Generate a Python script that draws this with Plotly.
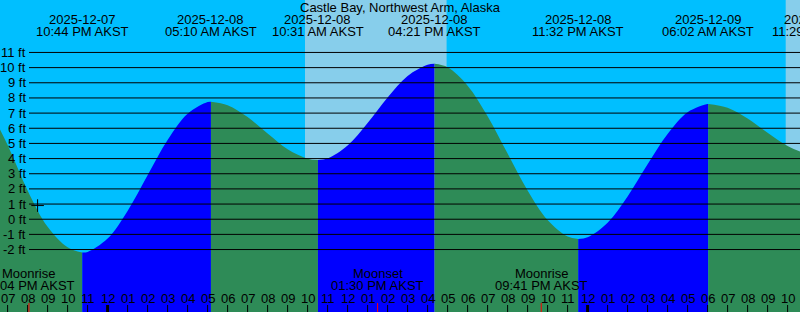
import plotly.graph_objects as go

# ---------------- data ----------------
TITLE = "Castle Bay, Northwest Arm, Alaska"

# hours since 2025-12-07 00:00 AKST, tide height in ft
TIME_H = [18, 19, 20, 21, 22, 22.733, 23, 24, 25, 26, 27, 28, 29, 29.167,
          30, 31, 32, 33, 34, 34.517, 35, 36, 37, 38, 39, 40, 40.35,
          41, 42, 43, 44, 45, 46, 47, 47.533, 48, 49, 50, 51, 52, 53, 54, 54.033,
          55, 56, 57, 58, 59, 59.483]
HEIGHT_FT = [7.5, 4.9, 1.9, -0.5, -1.85, -2.2, -2.16, -1.28, 0.55, 2.90, 5.22, 6.96, 7.73, 7.75,
             7.52, 6.74, 5.65, 4.61, 3.99, 3.9, 4.01, 4.86, 6.34, 8.03, 9.45, 10.19, 10.25,
             10.02, 8.81, 6.79, 4.33, 1.90, -0.05, -1.14, -1.3, -1.19, -0.23, 1.50, 3.62, 5.62, 7.06, 7.60, 7.6,
             7.35, 6.64, 5.70, 4.83, 4.32, 4.26]

EXTREME_T = [22.733, 29.167, 34.517, 40.35, 47.533, 54.033, 59.483]
EXTREME_DATE = ["2025-12-07", "2025-12-08", "2025-12-08", "2025-12-08",
                "2025-12-08", "2025-12-09", "2025-12-09"]
EXTREME_CLOCK = ["10:44 PM AKST", "05:10 AM AKST", "10:31 AM AKST", "04:21 PM AKST",
                 "11:32 PM AKST", "06:02 AM AKST", "11:29 AM AKST"]

# daylight intervals (hours since 2025-12-07 00:00)
DAY_START = [33.87, 57.905]
DAY_END = [40.95, 62.0]

MOON_T = [20.067, 37.5, 45.683]
MOON_EVENT = ["Moonrise", "Moonset", "Moonrise"]
MOON_CLOCK = ["08:04 PM AKST", "01:30 PM AKST", "09:41 PM AKST"]

HOUR_TICKS = list(range(19, 59))
FT_LEVELS = list(range(-2, 12))

NOW_T = [20.5]
NOW_FT = [0.9]

# ---------------- style ----------------
X0, X1 = 18.62, 58.62
Y0, Y1 = -6.12, 14.46
W, H = 800, 312
SKY = "#00BFFF"
DAY = "#87CEEB"
RISE = "#0000FF"
FALL = "#2E8B57"
FONT = "Liberation Sans, Arial, sans-serif"

fig = go.Figure()

# tide segments, split at extremes
bounds = [TIME_H[0]] + EXTREME_T
for a, b in zip(bounds[:-1], bounds[1:]):
    xs = [t for t in TIME_H if a <= t <= b]
    ys = [HEIGHT_FT[TIME_H.index(t)] for t in xs]
    color = RISE if ys[-1] > ys[0] else FALL
    fig.add_trace(go.Scatter(x=[xs[0], xs[-1]], y=[Y0 - 1, Y0 - 1], mode="lines",
                             line=dict(width=0), hoverinfo="skip"))
    fig.add_trace(go.Scatter(x=xs, y=ys, mode="lines", fill="tonexty",
                             fillcolor=color, line=dict(width=0, shape="spline", color=color),
                             hoverinfo="skip"))

# now marker
fig.add_trace(go.Scatter(x=NOW_T, y=NOW_FT, mode="markers",
                         marker=dict(symbol="cross-thin", size=9,
                                     line=dict(color="black", width=1))))

shapes = []
for s, e in zip(DAY_START, DAY_END):
    shapes.append(dict(type="rect", xref="x", yref="paper", x0=s, x1=e, y0=0, y1=1,
                       fillcolor=DAY, line=dict(width=0), layer="below"))
for v in FT_LEVELS:
    shapes.append(dict(type="line", xref="paper", yref="y", x0=29 / W, x1=1, y0=v, y1=v,
                       line=dict(color="black", width=1), layer="above"))
for h in HOUR_TICKS:
    shapes.append(dict(type="line", xref="x", yref="paper", x0=h, x1=h, y0=0, y1=7 / H,
                       line=dict(color="black", width=3 if h % 24 == 0 else 1), layer="above"))
for t in MOON_T:
    shapes.append(dict(type="line", xref="x", yref="paper", x0=t, x1=t, y0=0, y1=9 / H,
                       line=dict(color="red", width=1), layer="above"))

ann = []
tf = dict(family=FONT, size=13, color="black")


def px2paper_y(py):
    return 1 - py / H


def t2paper_x(t):
    return (t - X0) / (X1 - X0)


ann.append(dict(text=TITLE, xref="paper", yref="paper", x=0.5, y=px2paper_y(7),
                xanchor="center", yanchor="middle", showarrow=False, font=tf))
for t, d, c in zip(EXTREME_T, EXTREME_DATE, EXTREME_CLOCK):
    ann.append(dict(text=d, xref="paper", yref="paper", x=t2paper_x(t), y=px2paper_y(19.5),
                    xanchor="center", yanchor="middle", showarrow=False, font=tf))
    ann.append(dict(text=c, xref="paper", yref="paper", x=t2paper_x(t), y=px2paper_y(31.3),
                    xanchor="center", yanchor="middle", showarrow=False, font=tf))
for v in FT_LEVELS:
    ann.append(dict(text=f"{v} ft", xref="paper", yref="y", x=28 / W, y=v,
                    xanchor="right", yanchor="middle", showarrow=False, font=tf))
for h in HOUR_TICKS:
    lab = f"{(h - 1) % 12 + 1:02d}"
    ann.append(dict(text=lab, xref="paper", yref="paper", x=t2paper_x(h), y=px2paper_y(298),
                    xanchor="center", yanchor="middle", showarrow=False, font=tf))
for t, ev, c in zip(MOON_T, MOON_EVENT, MOON_CLOCK):
    ann.append(dict(text=ev, xref="paper", yref="paper", x=t2paper_x(t), y=px2paper_y(273),
                    xanchor="center", yanchor="middle", showarrow=False, font=tf))
    ann.append(dict(text=c, xref="paper", yref="paper", x=t2paper_x(t), y=px2paper_y(285),
                    xanchor="center", yanchor="middle", showarrow=False, font=tf))

fig.update_layout(
    width=W, height=H, margin=dict(l=0, r=0, t=0, b=0, pad=0),
    paper_bgcolor=SKY, plot_bgcolor=SKY, showlegend=False,
    xaxis=dict(range=[X0, X1], visible=False, fixedrange=True),
    yaxis=dict(range=[Y0, Y1], visible=False, fixedrange=True),
    shapes=shapes, annotations=ann,
)

fig.write_html("out.html", config={"displayModeBar": False})
